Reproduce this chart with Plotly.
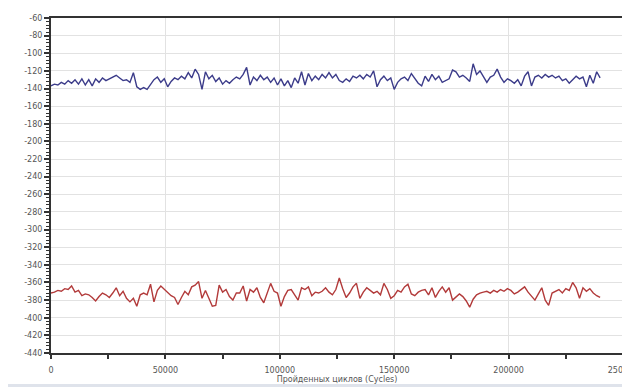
import plotly.graph_objects as go

# x positions (cycles), one sample every 1500 cycles from 0 to 240000
step_cycles = 1500
n_points = 161
cycles = [i * step_cycles for i in range(n_points)]

upper_series = [
    -137, -135, -136, -133, -135, -131, -134, -130, -135, -129,
    -136, -130, -137, -129, -133, -128, -131, -129, -127, -125,
    -128, -131, -130, -133, -122, -138, -141, -139, -141, -135,
    -130, -127, -133, -129, -138, -132, -128, -130, -126, -129,
    -122, -128, -118, -124, -141, -121, -129, -125, -132, -128,
    -135, -131, -134, -130, -127, -129, -124, -116, -136, -127,
    -131, -125, -130, -127, -133, -128, -136, -129, -137, -131,
    -139, -128, -134, -121, -136, -123, -131, -126, -130, -124,
    -128, -122, -128, -124, -131, -133, -129, -132, -126, -128,
    -125, -129, -124, -127, -120, -138, -130, -126, -131, -128,
    -141, -133, -129, -127, -131, -123, -128, -134, -137, -126,
    -132, -124, -130, -126, -133, -131, -129, -119, -121, -127,
    -125, -128, -132, -112, -124, -120, -126, -133, -127, -125,
    -118, -127, -133, -129, -131, -134, -130, -137, -126, -121,
    -137, -127, -125, -128, -124, -127, -125, -128, -126, -131,
    -129, -134, -130, -126, -129, -127, -138, -125, -134, -121,
    -128,
]

lower_series = [
    -372, -371, -369, -370, -367, -368, -364, -371, -369, -375,
    -373, -374, -377, -381, -376, -372, -374, -377, -372, -366,
    -375, -370, -378, -382, -378, -387, -374, -372, -374, -362,
    -382, -369, -364, -368, -372, -375, -377, -385, -377, -370,
    -374, -365, -363, -359, -378, -369, -378, -387, -386, -363,
    -371, -368, -376, -380, -372, -372, -364, -381, -368, -371,
    -366, -377, -383, -373, -361, -370, -372, -387, -376, -369,
    -368, -374, -380, -366, -368, -365, -375, -371, -372, -370,
    -366, -371, -374, -368, -355, -367, -377, -372, -365, -361,
    -378, -371, -366, -369, -372, -370, -374, -361, -368, -378,
    -375, -369, -371, -365, -362, -373, -375, -371, -369, -368,
    -374, -366, -377, -370, -365, -371, -366, -380, -376, -373,
    -376, -381, -388, -379, -374, -372, -371, -370, -372, -369,
    -371, -368, -370, -367, -369, -373, -371, -368, -365, -371,
    -375, -380, -373, -366, -380, -386, -372, -370, -368, -372,
    -367, -369, -360, -366, -378, -366, -370, -367, -372, -375,
    -377,
]

y_ticks = list(range(-440, -59, 20))
x_ticks = [0, 50000, 100000, 150000, 200000, 250000]
x_title = "Пройденных циклов (Cycles)"

fig = go.Figure()
fig.add_trace(go.Scatter(x=cycles, y=upper_series, mode="lines",
                         line=dict(color="#3c3c8a", width=1.4), showlegend=False))
fig.add_trace(go.Scatter(x=cycles, y=lower_series, mode="lines",
                         line=dict(color="#b23a3a", width=1.4), showlegend=False))

# The page body adds an 8px offset, so the figure is sized/placed to compensate
W, H = 622, 379
ml, mr, mt, mb = 43, 7, 10, 34
pw, ph = W - ml - mr, H - mt - mb

def px_x(p):
    return (p - ml) / pw

def px_y(p):
    return (H - mb - p) / ph

# white chart panel on a light frame
fig.add_shape(type="rect", xref="paper", yref="paper",
              x0=px_x(-2), x1=px_x(618), y0=px_y(376), y1=px_y(-2),
              fillcolor="white", line=dict(width=0), layer="below")

fig.update_layout(
    width=W, height=H,
    margin=dict(l=ml, r=mr, t=mt, b=mb),
    paper_bgcolor="#dfe3eb",
    plot_bgcolor="white",
    font=dict(family="DejaVu Sans", size=8, color="#555555"),
)

fig.update_xaxes(
    range=[0, 250000], tickvals=x_ticks, ticktext=[str(v) for v in x_ticks],
    showgrid=True, gridcolor="#e2e2e2", gridwidth=1, zeroline=False,
    showline=True, linecolor="#333333", linewidth=2, mirror=True,
    ticks="outside", ticklen=4, tickcolor="#333333", tickwidth=2,
    minor=dict(tickvals=[25000, 75000, 125000, 175000, 225000], ticks="outside",
               ticklen=4, tickcolor="#333333", tickwidth=2, showgrid=False),
    tickfont=dict(size=8, color="#555555"),
    ticklabelstandoff=4,
    ticklabeloverflow="allow",
    title=dict(text=x_title, font=dict(size=8, color="#555555"), standoff=3),
    automargin=False,
)
fig.update_yaxes(
    range=[-440, -60], tickvals=y_ticks, ticktext=[str(v) for v in y_ticks],
    showgrid=True, gridcolor="#e2e2e2", gridwidth=1, zeroline=False,
    showline=True, linecolor="#333333", linewidth=2, mirror=True,
    ticks="outside", ticklen=5, tickcolor="#333333", tickwidth=2,
    minor=dict(dtick=4, tick0=-440, ticks="outside", ticklen=3,
               tickcolor="#333333", tickwidth=1, showgrid=False),
    tickfont=dict(size=8, color="#555555"),
    automargin=False,
)

fig.write_html("out.html")
